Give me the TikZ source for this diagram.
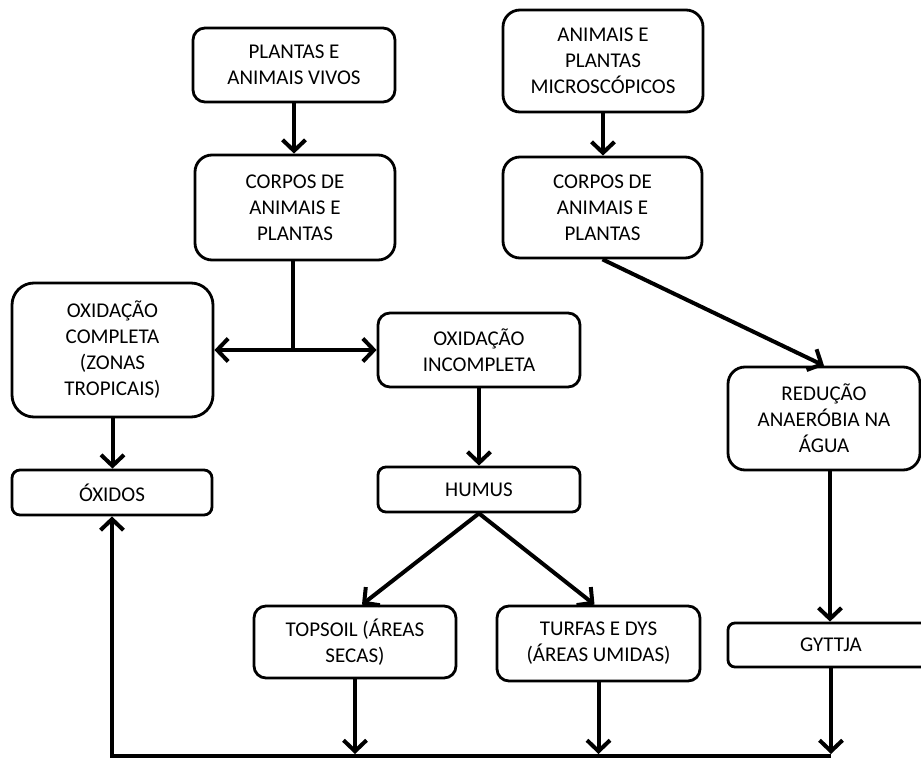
\documentclass[tikz,border=0pt]{standalone}
\usepackage{fontspec}
\setmainfont{Carlito}
\usetikzlibrary{arrows.meta}
\begin{document}
\begin{tikzpicture}[x=1pt,y=-1pt,
  box/.style={draw=black, line width=2.8pt, align=center, inner sep=0pt,
    font=\fontsize{21}{26}\selectfont, text=black},
  conn/.style={line width=4pt, line join=miter,
    -{Straight Barb[length=11pt,width=23pt,line width=4pt]}},
  plain/.style={line width=4pt}
]
\useasboundingbox (0,0) rectangle (921,760);

\node[box, rounded corners=12pt, minimum width=202pt, minimum height=74pt] (b1) at (294,65) {PLANTAS E\\ANIMAIS VIVOS};
\node[box, rounded corners=17pt, minimum width=200pt, minimum height=105pt] (b2) at (295,207.5) {CORPOS DE\\ANIMAIS E\\PLANTAS};
\node[box, rounded corners=17pt, minimum width=200pt, minimum height=102pt] (b3) at (603,61) {ANIMAIS E\\PLANTAS\\MICROSCÓPICOS};
\node[box, rounded corners=17pt, minimum width=199pt, minimum height=101pt] (b4) at (602.5,207.5) {CORPOS DE\\ANIMAIS E\\PLANTAS};
\node[box, rounded corners=22pt, minimum width=201pt, minimum height=134pt] (b5) at (112.5,350) {OXIDAÇÃO\\COMPLETA\\(ZONAS\\TROPICAIS)};
\node[box, rounded corners=12pt, minimum width=202pt, minimum height=74pt] (b6) at (479,350) {OXIDAÇÃO\\INCOMPLETA};
\node[box, rounded corners=8pt, minimum width=200pt, minimum height=45pt] (b7) at (112,492.5) {ÓXIDOS};
\node[box, rounded corners=8pt, minimum width=202pt, minimum height=45pt] (b8) at (479,489.5) {HUMUS};
\node[box, rounded corners=17pt, minimum width=192pt, minimum height=103pt] (b9) at (824,418.5) {REDUÇÃO\\ANAERÓBIA NA\\ÁGUA};
\node[box, rounded corners=12pt, minimum width=202pt, minimum height=72pt] (b10) at (355,642) {TOPSOIL (ÁREAS\\SECAS)};
\node[box, rounded corners=12pt, minimum width=203pt, minimum height=75pt] (b11) at (598.5,643.5) {TURFAS E DYS\\(ÁREAS UMIDAS)};
\node[box, rounded corners=7pt, minimum width=206pt, minimum height=44pt] (b12) at (831,645) {GYTTJA};

\coordinate (j) at (293,350);
\coordinate (bl) at (112,756);
\coordinate (bt) at (0,754);

\draw[conn] (b1.south) -- (b1.south |- b2.north);
\draw[conn] (b3.south) -- (b3.south |- b4.north);
\draw[plain] (b2.south -| j) -- (j);
\draw[conn] (j) -- (b5.east);
\draw[conn] (j) -- (b6.west);
\draw[conn] (b4.south) -- (b9.north);
\draw[conn] (b5.south) -- (b5.south |- b7.north);
\draw[conn] (b6.south) -- (b6.south |- b8.north);
\draw[conn] (b8.south) -- ([xshift=7pt]b10.north);
\draw[conn] (b8.south) -- ([xshift=-4pt]b11.north);
\draw[conn] ([xshift=6pt]b9.south) -- ([xshift=6pt]b9.south |- b12.north);
\draw[conn] (b10.south) -- (b10.south |- bt);
\draw[conn] (b11.south) -- (b11.south |- bt);
\draw[conn] (b12.south) -- (b12.south |- bt);
\draw[conn] (b12.south |- bl) -- (bl) -- (b7.south);
\end{tikzpicture}
\end{document}
